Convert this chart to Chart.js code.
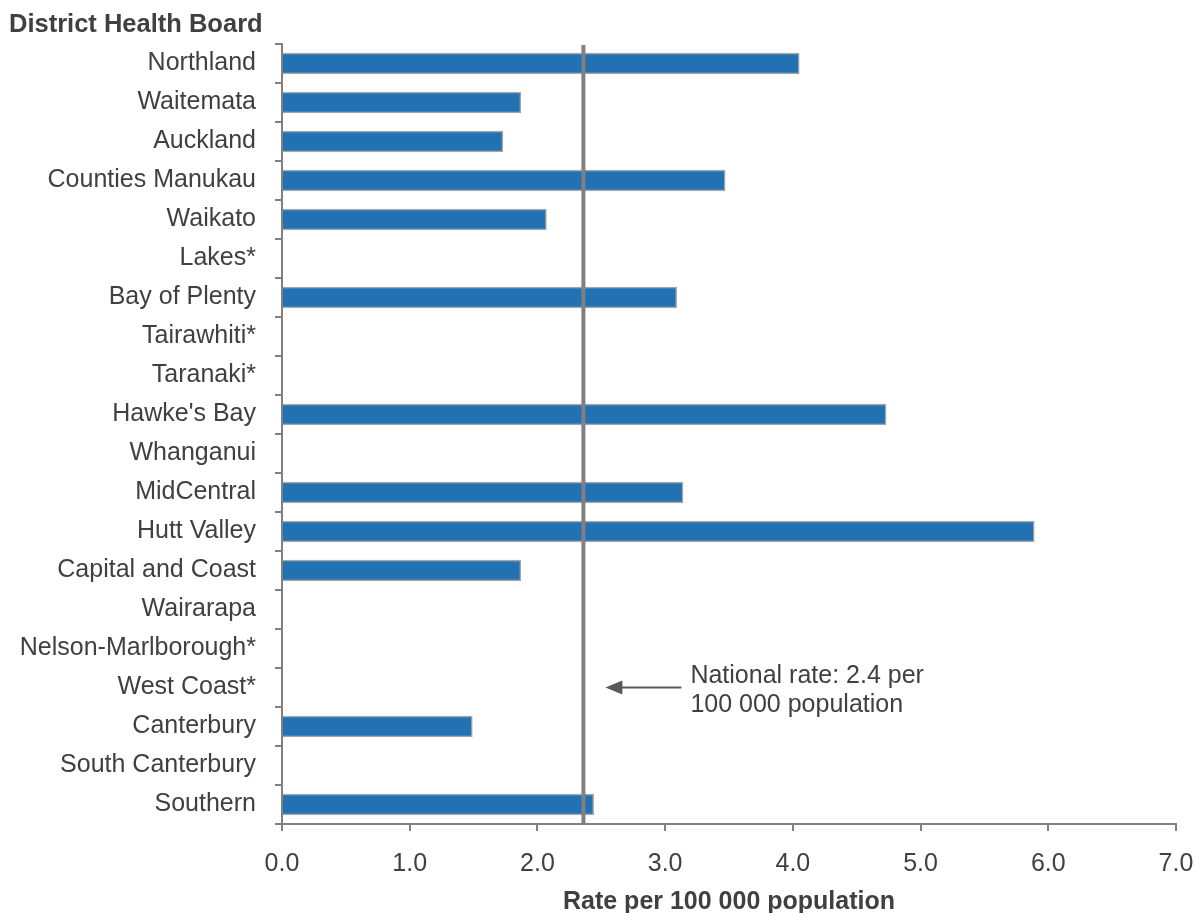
<!DOCTYPE html>
<html>
<head>
<meta charset="utf-8">
<script src="https://cdn.jsdelivr.net/npm/chart.js@4/dist/chart.umd.min.js"></script>
<style>
  html, body { margin: 0; padding: 0; background: #ffffff; }
  #wrap { width: 1194px; height: 913px; position: relative; }
</style>
</head>
<body>
<div id="wrap"><canvas id="chart"></canvas></div>
<script>
// District Health Boards, top to bottom
const boards = [
  'Northland', 'Waitemata', 'Auckland', 'Counties Manukau', 'Waikato',
  'Lakes*', 'Bay of Plenty', 'Tairawhiti*', 'Taranaki*', "Hawke's Bay",
  'Whanganui', 'MidCentral', 'Hutt Valley', 'Capital and Coast', 'Wairarapa',
  'Nelson-Marlborough*', 'West Coast*', 'Canterbury', 'South Canterbury', 'Southern'
];

// Rate per 100 000 population (null = no rate shown)
const rates = [
  4.05, 1.87, 1.73, 3.47, 2.07,
  null, 3.09, null, null, 4.73,
  null, 3.14, 5.89, 1.87, null,
  null, null, 1.49, null, 2.44
];

// National rate per 100 000 population
const nationalRate = 2.36;

// Rate axis ticks
const rateTicks = [0, 1, 2, 3, 4, 5, 6, 7];

const FONT = '"Liberation Sans", Arial, Helvetica, sans-serif';
const TEXT = '#404040';
const AXIS = '#808080';

// Reference line, arrow note and the top-left heading
const overlay = {
  id: 'overlay',
  afterDatasetsDraw(chart) {
    const { ctx, chartArea, scales } = chart;
    const x = scales.x.getPixelForValue(nationalRate);

    ctx.save();
    // national rate line
    ctx.strokeStyle = AXIS;
    ctx.lineWidth = 4;
    ctx.beginPath();
    ctx.moveTo(x, chartArea.top + 1);
    ctx.lineTo(x, chartArea.bottom);
    ctx.stroke();

    // arrow pointing at the line
    const ay = scales.y.getPixelForValue(boards.indexOf('West Coast*'));
    const tip = x + 22, tail = x + 98;
    ctx.strokeStyle = '#595959';
    ctx.fillStyle = '#595959';
    ctx.lineWidth = 2;
    ctx.beginPath();
    ctx.moveTo(tip + 14, ay);
    ctx.lineTo(tail, ay);
    ctx.stroke();
    ctx.beginPath();
    ctx.moveTo(tip, ay);
    ctx.lineTo(tip + 17, ay - 7);
    ctx.lineTo(tip + 17, ay + 7);
    ctx.closePath();
    ctx.fill();

    // note text
    ctx.fillStyle = TEXT;
    ctx.font = '25px ' + FONT;
    ctx.textAlign = 'left';
    ctx.textBaseline = 'middle';
    ctx.fillText('National rate: ' + nationalRate.toFixed(1) + ' per', x + 107, ay - 11);
    ctx.fillText('100 000 population', x + 107, ay + 18);

    // heading above the category axis
    ctx.font = 'bold 25.5px ' + FONT;
    ctx.fillText('District Health Board', 9, 25);
    ctx.restore();
  }
};

new Chart(document.getElementById('chart'), {
  type: 'bar',
  data: {
    labels: boards,
    datasets: [{
      data: rates,
      backgroundColor: '#2271b3',
      borderColor: '#a5a5a5',
      borderWidth: 1.5,
      barThickness: 21
    }]
  },
  options: {
    indexAxis: 'y',
    responsive: true,
    maintainAspectRatio: false,
    animation: false,
    layout: { padding: { top: 44, right: 0, bottom: 0, left: 0 } },
    plugins: {
      legend: { display: false },
      tooltip: { enabled: false }
    },
    scales: {
      y: {
        type: 'category',
        offset: true,
        grid: {
          offset: true,
          drawOnChartArea: false,
          drawTicks: true,
          tickLength: 7,
          color: AXIS,
          lineWidth: 2
        },
        border: { display: true, color: AXIS, width: 2 },
        ticks: {
          color: TEXT,
          font: { family: FONT, size: 25 },
          padding: 19,
          autoSkip: false
        },
        afterFit(scale) { scale.width = 282; }
      },
      x: {
        type: 'linear',
        min: rateTicks[0],
        max: rateTicks[rateTicks.length - 1],
        afterBuildTicks(scale) { scale.ticks = rateTicks.map(v => ({ value: v })); },
        grid: {
          drawOnChartArea: false,
          drawTicks: true,
          tickLength: 7,
          color: AXIS,
          lineWidth: 2
        },
        border: { display: true, color: AXIS, width: 2 },
        ticks: {
          color: TEXT,
          font: { family: FONT, size: 25 },
          padding: 18,
          maxRotation: 0,
          callback: v => Number(v).toFixed(1)
        },
        title: {
          display: true,
          text: 'Rate per 100 000 population',
          color: TEXT,
          font: { family: FONT, size: 25, weight: 'bold', lineHeight: 1 },
          padding: { top: 0, bottom: -2 }
        },
        afterFit(scale) {
          scale.height = 89;
          scale.paddingLeft = 0;
          scale.paddingRight = 18;
        }
      }
    }
  },
  plugins: [overlay]
});
</script>
</body>
</html>
